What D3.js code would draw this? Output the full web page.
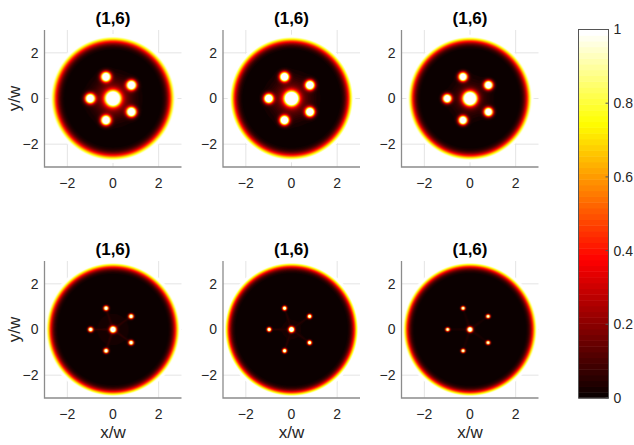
<!DOCTYPE html>
<html lang="en">
  <head>
    <meta charset="utf-8" />
    <script src="https://cdn.jsdelivr.net/npm/d3@7/dist/d3.min.js"></script>
    <title>(1,6)</title>
    <style>
      body { margin: 0; background: #fff; }
      text { font-family: "Liberation Sans", Arial, sans-serif; fill: #262626; }
      .tick-label { font-size: 14px; }
      .title { font-size: 17px; font-weight: bold; fill: #000; }
      .axis-label { font-size: 17px; }
      .grid { stroke: #e4e4e4; stroke-width: 1; }
      .axis-line { stroke: #8c8c8c; stroke-width: 1.3; fill: none; }
    </style>
  </head>
  <body>
    <div id="container"></div>

    <script>
      // panel data (row by row)
      const titles = ["(1,6)", "(1,6)", "(1,6)", "(1,6)", "(1,6)", "(1,6)"];
      const ringRadius = [2.82, 2.8, 2.8, 3.02, 3.02, 3.02];
      const ringWidth = [0.23, 0.22, 0.21, 0.2, 0.19, 0.19];
      const ringPeak = [1.12, 1.12, 1.12, 1.15, 1.15, 1.15];
      const centerPeak = [2.2, 2.2, 2.4, 2.0, 1.9, 1.9];
      const centerSigma = [0.2, 0.19, 0.18, 0.085, 0.075, 0.07];
      const spotPeak = [1.8, 1.8, 1.8, 1.5, 1.4, 1.35];
      const spotSigma = [0.135, 0.13, 0.12, 0.065, 0.06, 0.055];
      const glowPeak = [0.25, 0.22, 0.14, 0.03, 0.02, 0.015];
      const glowSigma = [0.55, 0.55, 0.5, 0.6, 0.6, 0.6];
      const linePeak = [0.0, 0.0, 0.0, 0.035, 0.025, 0.02];
      const spotAngles = [36, 108, 180, 252, 324];
      const spotDistance = [1.0, 1.0, 1.0, 0.98, 0.98, 0.98];

      const ticks = [-2, 0, 2];
      const cbTicks = [0, 0.2, 0.4, 0.6, 0.8, 1];

      const width = 634;
      const height = 445;
      const colX = [44.5, 223, 401.5];
      const rowY = [30, 261];
      const pw = 137;
      const ph = 137;

      const hot = d3
        .scaleLinear()
        .domain([0, 3 / 8, 6 / 8, 1])
        .range(["#0b0000", "#ff0000", "#ffff00", "#ffffff"])
        .clamp(true);

      const fmt = (d) => (d < 0 ? "\u2212" + Math.abs(d) : String(d));

      const svg = d3.select("#container").append("svg").attr("width", width).attr("height", height);

      function intensity(i, u, v) {
        const r = Math.hypot(u, v);
        const R = ringRadius[i];
        if (r > R) return null;
        let I = ringPeak[i] * Math.exp(-0.5 * ((R - r) / ringWidth[i]) ** 2);
        I += centerPeak[i] * Math.exp(-0.5 * (r / centerSigma[i]) ** 2);
        I += glowPeak[i] * Math.exp(-0.5 * (r / glowSigma[i]) ** 2);
        spotAngles.forEach((a) => {
          const sx = spotDistance[i] * Math.cos((a * Math.PI) / 180);
          const sy = spotDistance[i] * Math.sin((a * Math.PI) / 180);
          const d = Math.hypot(u - sx, v - sy);
          I += spotPeak[i] * Math.exp(-0.5 * (d / spotSigma[i]) ** 2);
          if (linePeak[i] > 0) {
            // faint stripe from the centre to the spot
            const t = Math.max(0, Math.min(1, (u * sx + v * sy) / (sx * sx + sy * sy)));
            const dl = Math.hypot(u - t * sx, v - t * sy);
            I += linePeak[i] * Math.exp(-0.5 * (dl / 0.035) ** 2);
          }
        });
        return Math.min(1, I);
      }

      titles.forEach((title, i) => {
        const col = i % 3;
        const row = Math.floor(i / 3);
        const x = d3.scaleLinear().domain([-3, 3]).range([0, pw]);
        const y = d3.scaleLinear().domain([-3, 3]).range([ph, 0]);
        const g = svg.append("g").attr("transform", `translate(${colX[col]},${rowY[row]})`);

        // grid
        g.selectAll(".gx").data(ticks).enter().append("line").attr("class", "grid")
          .attr("x1", (d) => x(d)).attr("x2", (d) => x(d)).attr("y1", 0).attr("y2", ph);
        g.selectAll(".gy").data(ticks).enter().append("line").attr("class", "grid")
          .attr("y1", (d) => y(d)).attr("y2", (d) => y(d)).attr("x1", 0).attr("x2", pw);

        // image
        const canvas = document.createElement("canvas");
        canvas.width = pw;
        canvas.height = ph;
        const ctx = canvas.getContext("2d");
        const img = ctx.createImageData(pw, ph);
        const ss = 3;
        for (let py = 0; py < ph; py++) {
          for (let px = 0; px < pw; px++) {
            let rr = 0, gg = 0, bb = 0, aa = 0;
            for (let sy = 0; sy < ss; sy++) {
              for (let sx = 0; sx < ss; sx++) {
                const u = x.invert(px + (sx + 0.5) / ss);
                const v = y.invert(py + (sy + 0.5) / ss);
                const I = intensity(i, u, v);
                if (I === null) continue;
                const q = Math.floor(I * 63.999) / 63;
                const c = d3.rgb(hot(q));
                rr += c.r; gg += c.g; bb += c.b; aa += 1;
              }
            }
            const k = (py * pw + px) * 4;
            if (aa > 0) {
              img.data[k] = rr / aa;
              img.data[k + 1] = gg / aa;
              img.data[k + 2] = bb / aa;
              img.data[k + 3] = (255 * aa) / (ss * ss);
            }
          }
        }
        ctx.putImageData(img, 0, 0);
        g.append("image").attr("x", 0).attr("y", 0).attr("width", pw).attr("height", ph)
          .attr("preserveAspectRatio", "none").attr("href", canvas.toDataURL());

        // axis lines
        g.append("path").attr("class", "axis-line").attr("d", `M0,0V${ph}H${pw}`);

        // tick labels
        g.selectAll(".xt").data(ticks).enter().append("text").attr("class", "tick-label")
          .attr("x", (d) => x(d)).attr("y", ph + 21).attr("text-anchor", "middle")
          .text(fmt);
        g.selectAll(".yt").data(ticks).enter().append("text").attr("class", "tick-label")
          .attr("x", -6).attr("y", (d) => y(d)).attr("dy", "0.35em").attr("text-anchor", "end")
          .text(fmt);

        g.append("text").attr("class", "title").attr("x", pw / 2).attr("y", -6)
          .attr("text-anchor", "middle").text(title);

        if (col === 0) {
          g.append("text").attr("class", "axis-label")
            .attr("transform", `translate(-25,${ph / 2}) rotate(-90)`)
            .attr("text-anchor", "middle").text("y/w");
        }
        if (row === 1) {
          g.append("text").attr("class", "axis-label").attr("x", pw / 2).attr("y", ph + 40)
            .attr("text-anchor", "middle").text("x/w");
        }
      });

      // colorbar
      const cbX = 578.5;
      const cbW = 30;
      const cb = d3.scaleLinear().domain([0, 1]).range([398, 29.5]);
      const levels = d3.range(64);
      const cbg = svg.append("g");
      cbg.selectAll("rect").data(levels).enter().append("rect")
        .attr("x", cbX).attr("width", cbW)
        .attr("y", (d) => cb((d + 1) / 64)).attr("height", (d) => cb(d / 64) - cb((d + 1) / 64) + 0.5)
        .attr("fill", (d) => hot(d / 63));
      cbg.append("rect").attr("x", cbX).attr("y", cb(1)).attr("width", cbW).attr("height", cb(0) - cb(1))
        .attr("fill", "none").attr("stroke", "#555").attr("stroke-width", 1);
      cbg.selectAll(".cbt").data(cbTicks).enter().append("line")
        .attr("x1", cbX + cbW - 3).attr("x2", cbX + cbW).attr("y1", (d) => cb(d)).attr("y2", (d) => cb(d))
        .attr("stroke", "#555");
      cbg.selectAll(".cbl").data(cbTicks).enter().append("text").attr("class", "tick-label")
        .attr("x", cbX + cbW + 5).attr("y", (d) => cb(d)).attr("dy", "0.35em")
        .text((d) => d);
    </script>
  </body>
</html>
